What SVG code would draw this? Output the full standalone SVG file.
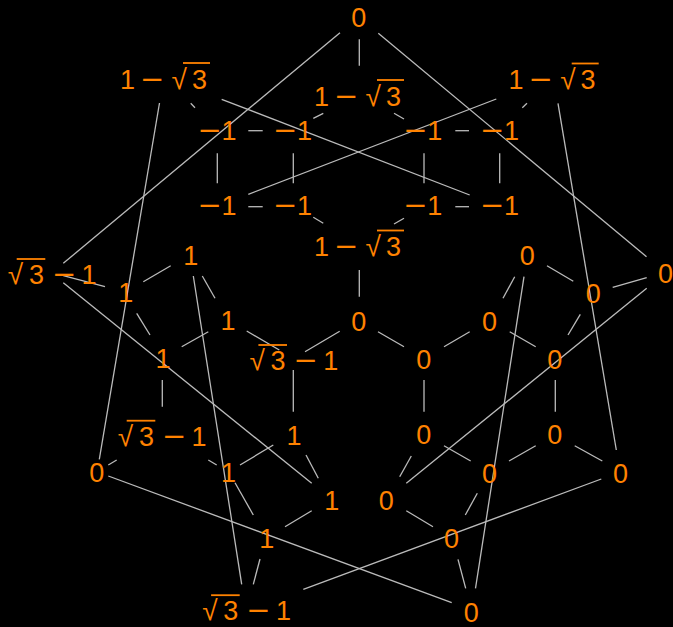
<svg xmlns="http://www.w3.org/2000/svg" width="673" height="627" viewBox="0 0 673 627">
<style>
.t{font-family:"Liberation Sans",Arial,sans-serif;font-size:27px;fill:#ff8200}
.m{font-family:"DejaVu Sans",sans-serif;font-size:29px}
.r{font-family:"Liberation Sans",Arial,sans-serif;font-size:28px}
.z{text-anchor:middle}
.ov{fill:#ff8200}
#edges line{stroke:#bbbbbb;stroke-width:1.3}
</style>
<rect width="673" height="627" fill="#000"/>
<g id="edges">
<line x1="359.3" y1="39.3" x2="359.3" y2="65.7"/>
<line x1="340" y1="32.7" x2="63.3" y2="263.3"/>
<line x1="378.3" y1="33.3" x2="646.5" y2="256.7"/>
<line x1="190.7" y1="103.3" x2="195" y2="107.7"/>
<line x1="221.7" y1="99.3" x2="469.7" y2="195"/>
<line x1="159.5" y1="103" x2="99.3" y2="459.3"/>
<line x1="527" y1="103.3" x2="522.3" y2="107.7"/>
<line x1="496.3" y1="99" x2="248.3" y2="194.3"/>
<line x1="558" y1="103.3" x2="616.3" y2="450"/>
<line x1="323.3" y1="113.3" x2="313.3" y2="118.3"/>
<line x1="394" y1="113.3" x2="404" y2="119"/>
<line x1="248.3" y1="130.7" x2="262.7" y2="130.7"/>
<line x1="217.3" y1="153.3" x2="217.3" y2="183.3"/>
<line x1="293.3" y1="153.3" x2="293.3" y2="183.3"/>
<line x1="248.3" y1="206.7" x2="262.7" y2="206.7"/>
<line x1="313.3" y1="217.3" x2="323.3" y2="223.3"/>
<line x1="455.3" y1="130.7" x2="469" y2="130.7"/>
<line x1="424" y1="153.3" x2="424" y2="183.3"/>
<line x1="499.7" y1="153.3" x2="499.7" y2="183.3"/>
<line x1="455.3" y1="206.7" x2="469" y2="206.7"/>
<line x1="394" y1="224" x2="404" y2="218.3"/>
<line x1="359.3" y1="270" x2="359.3" y2="296.7"/>
<line x1="63.3" y1="275.7" x2="105" y2="286.7"/>
<line x1="63.3" y1="282.7" x2="311.7" y2="483.3"/>
<line x1="143.3" y1="281.7" x2="170.7" y2="265.7"/>
<line x1="202.3" y1="276" x2="215" y2="298.3"/>
<line x1="193.3" y1="276" x2="241.7" y2="584.3"/>
<line x1="136.7" y1="313.3" x2="150" y2="335"/>
<line x1="181.7" y1="346.7" x2="208.3" y2="331.7"/>
<line x1="246.7" y1="331" x2="279.3" y2="350"/>
<line x1="305" y1="351.7" x2="339.7" y2="331.3"/>
<line x1="293.3" y1="370" x2="293.3" y2="411.7"/>
<line x1="162.3" y1="380" x2="162.3" y2="406.7"/>
<line x1="108.3" y1="465" x2="116.7" y2="460"/>
<line x1="208.3" y1="460" x2="216.7" y2="465"/>
<line x1="240" y1="465" x2="273.3" y2="445"/>
<line x1="306" y1="455" x2="318.3" y2="478.3"/>
<line x1="235" y1="482.7" x2="253.3" y2="515"/>
<line x1="285" y1="526.7" x2="311.7" y2="510.7"/>
<line x1="260" y1="559" x2="253.3" y2="584.3"/>
<line x1="108.3" y1="476" x2="451.7" y2="602.7"/>
<line x1="303.3" y1="589.3" x2="601.3" y2="479"/>
<line x1="378" y1="331.7" x2="404" y2="346.7"/>
<line x1="444" y1="346.7" x2="469.7" y2="331.7"/>
<line x1="509.7" y1="331.7" x2="535.7" y2="346.7"/>
<line x1="424" y1="380" x2="424" y2="411.7"/>
<line x1="555.3" y1="380" x2="555.3" y2="411.7"/>
<line x1="568" y1="335" x2="580.3" y2="314.3"/>
<line x1="411.3" y1="456" x2="399.7" y2="476.7"/>
<line x1="444" y1="445.7" x2="470.7" y2="461"/>
<line x1="509" y1="461" x2="535.7" y2="445.7"/>
<line x1="574.7" y1="445.7" x2="602.3" y2="461"/>
<line x1="477.3" y1="493.3" x2="465.3" y2="515"/>
<line x1="406.3" y1="510.7" x2="433" y2="526.7"/>
<line x1="458" y1="559.3" x2="465.7" y2="588.3"/>
<line x1="406.3" y1="483.3" x2="646.7" y2="288.3"/>
<line x1="524" y1="276.7" x2="475.5" y2="588.3"/>
<line x1="547" y1="265.7" x2="573.3" y2="281.3"/>
<line x1="514.7" y1="276.7" x2="503" y2="298.3"/>
<line x1="612.7" y1="287.3" x2="646.7" y2="277.7"/>
</g>
<g id="n0"><text class="t z" x="358.7" y="27">0</text></g>
<g id="n1"><text class="t" y="88.5"><tspan x="119.9">1</tspan><tspan class="m" x="139.9">−</tspan><tspan class="r" x="171.5">√</tspan><tspan x="191.9">3</tspan></text><rect class="ov" x="183" y="62.1" width="27" height="1.8"/></g>
<g id="n2"><text class="t" y="105.5"><tspan x="313.9">1</tspan><tspan class="m" x="333.9">−</tspan><tspan class="r" x="365.5">√</tspan><tspan x="385.9">3</tspan></text><rect class="ov" x="377" y="79.1" width="27" height="1.8"/></g>
<g id="n3"><text class="t" y="89"><tspan x="508.6">1</tspan><tspan class="m" x="528.6">−</tspan><tspan class="r" x="560.2">√</tspan><tspan x="580.6">3</tspan></text><rect class="ov" x="571.7" y="62.6" width="27" height="1.8"/></g>
<g id="n4"><text class="t" y="140"><tspan class="m" x="197.6">−</tspan><tspan x="221.6">1</tspan></text></g>
<g id="n5"><text class="t" y="140"><tspan class="m" x="272.9">−</tspan><tspan x="296.9">1</tspan></text></g>
<g id="n6"><text class="t" y="140"><tspan class="m" x="403.2">−</tspan><tspan x="427.2">1</tspan></text></g>
<g id="n7"><text class="t" y="140"><tspan class="m" x="479.9">−</tspan><tspan x="503.9">1</tspan></text></g>
<g id="n8"><text class="t" y="215"><tspan class="m" x="197.6">−</tspan><tspan x="221.6">1</tspan></text></g>
<g id="n9"><text class="t" y="215"><tspan class="m" x="272.9">−</tspan><tspan x="296.9">1</tspan></text></g>
<g id="n10"><text class="t" y="215"><tspan class="m" x="403.2">−</tspan><tspan x="427.2">1</tspan></text></g>
<g id="n11"><text class="t" y="215"><tspan class="m" x="479.9">−</tspan><tspan x="503.9">1</tspan></text></g>
<g id="n12"><text class="t" y="256"><tspan x="313.9">1</tspan><tspan class="m" x="333.9">−</tspan><tspan class="r" x="365.5">√</tspan><tspan x="385.9">3</tspan></text><rect class="ov" x="377" y="229.6" width="27" height="1.8"/></g>
<g id="n13"><text class="t" y="284"><tspan class="r" x="7.8">√</tspan><tspan x="28.9">3</tspan><tspan class="m" x="51.9">−</tspan><tspan x="81.5">1</tspan></text><rect class="ov" x="16.7" y="258.1" width="28.6" height="1.8"/></g>
<g id="n14"><text class="t" x="183.2" y="265">1</text></g>
<g id="n15"><text class="t" x="118.2" y="301.7">1</text></g>
<g id="n16"><text class="t" x="220.4" y="330">1</text></g>
<g id="n17"><text class="t" x="155.6" y="368.3">1</text></g>
<g id="n18"><text class="t" y="370"><tspan class="r" x="249.5">√</tspan><tspan x="270.6">3</tspan><tspan class="m" x="293.6">−</tspan><tspan x="323.2">1</tspan></text><rect class="ov" x="258.4" y="344.1" width="28.6" height="1.8"/></g>
<g id="n19"><text class="t z" x="358.8" y="331.3">0</text></g>
<g id="n20"><text class="t z" x="527.2" y="264.7">0</text></g>
<g id="n21"><text class="t z" x="593.3" y="302.7">0</text></g>
<g id="n22"><text class="t z" x="665.5" y="283.3">0</text></g>
<g id="n23"><text class="t z" x="489.5" y="331.3">0</text></g>
<g id="n24"><text class="t z" x="423.8" y="369">0</text></g>
<g id="n25"><text class="t z" x="554.8" y="369">0</text></g>
<g id="n26"><text class="t" y="445.7"><tspan class="r" x="117.8">√</tspan><tspan x="138.9">3</tspan><tspan class="m" x="161.9">−</tspan><tspan x="191.5">1</tspan></text><rect class="ov" x="126.7" y="419.8" width="28.6" height="1.8"/></g>
<g id="n27"><text class="t" x="286.4" y="445">1</text></g>
<g id="n28"><text class="t z" x="96.7" y="482">0</text></g>
<g id="n29"><text class="t" x="220.9" y="481.7">1</text></g>
<g id="n30"><text class="t" x="324.2" y="509.5">1</text></g>
<g id="n31"><text class="t" x="259.2" y="548.3">1</text></g>
<g id="n32"><text class="t z" x="423.8" y="444">0</text></g>
<g id="n33"><text class="t z" x="554.8" y="444">0</text></g>
<g id="n34"><text class="t z" x="489.5" y="482.5">0</text></g>
<g id="n35"><text class="t z" x="620.5" y="482.5">0</text></g>
<g id="n36"><text class="t z" x="386.2" y="510">0</text></g>
<g id="n37"><text class="t z" x="451.5" y="548">0</text></g>
<g id="n38"><text class="t" y="620.2"><tspan class="r" x="202.2">√</tspan><tspan x="223.3">3</tspan><tspan class="m" x="246.3">−</tspan><tspan x="275.9">1</tspan></text><rect class="ov" x="211.1" y="594.3" width="28.6" height="1.8"/></g>
<g id="n39"><text class="t z" x="471.3" y="621.5">0</text></g>
</svg>
